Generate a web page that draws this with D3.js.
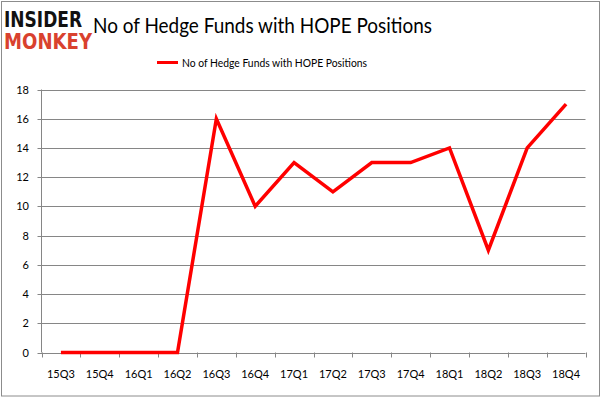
<!DOCTYPE html>
<html>
<head>
<meta charset="utf-8">
<script src="https://d3js.org/d3.v7.min.js"></script>
<style>
  body { margin: 0; background: #fff; }
  text { font-family: Lato, "Open Sans", sans-serif; }
</style>
</head>
<body>
<div id="chart"></div>
<script>

// chart data
var quarters = ["15Q3","15Q4","16Q1","16Q2","16Q3","16Q4","17Q1","17Q2","17Q3","17Q4","18Q1","18Q2","18Q3","18Q4"];
var funds = [0, 0, 0, 0, 16, 10, 13, 11, 13, 13, 14, 7, 14, 17];
var yTicks = [0, 2, 4, 6, 8, 10, 12, 14, 16, 18];
var seriesName = "No of Hedge Funds with HOPE Positions";

var W = 602, H = 398;
var plot = {left: 41.5, right: 585.5, top: 89.5, bottom: 352.5};

var svg = d3.select("#chart").append("svg")
    .attr("width", W)
    .attr("height", H);

// outer frame
svg.append("rect")
    .attr("x", 1.5).attr("y", 1.5)
    .attr("width", 598).attr("height", 394.5)
    .attr("fill", "#fff")
    .attr("stroke", "#8c8c8c");

// logo
svg.append("text").attr("x", 4).attr("y", 27)
    .style("font-family", "DejaVu Sans").style("font-weight", "bold")
    .style("font-size", "21px").attr("textLength", 78).attr("lengthAdjust", "spacingAndGlyphs")
    .attr("fill", "#111").text("INSIDER");
svg.append("text").attr("x", 4).attr("y", 49)
    .style("font-family", "DejaVu Sans").style("font-weight", "bold")
    .style("font-size", "21px").attr("textLength", 88).attr("lengthAdjust", "spacingAndGlyphs")
    .attr("fill", "#d9412e").text("MONKEY");

// title
svg.append("text")
    .attr("x", 93).attr("y", 33)
    .style("font-size", "21px")
    .attr("textLength", 339).attr("lengthAdjust", "spacingAndGlyphs")
    .attr("fill", "#000")
    .text(seriesName);

// legend
svg.append("line")
    .attr("x1", 157).attr("x2", 178).attr("y1", 62.5).attr("y2", 62.5)
    .attr("stroke", "#ff0000").attr("stroke-width", 3);
svg.append("text")
    .attr("x", 182).attr("y", 66.5)
    .style("font-size", "12px")
    .attr("textLength", 185).attr("lengthAdjust", "spacingAndGlyphs")
    .attr("fill", "#000")
    .text(seriesName);

// scales
var x = d3.scaleBand().domain(quarters).range([plot.left, plot.right]);
var y = d3.scaleLinear().domain([0, 18]).range([plot.bottom, plot.top]);

// gridlines
svg.append("g").selectAll("line")
  .data(yTicks)
  .enter().append("line")
    .attr("x1", plot.left - 4).attr("x2", plot.right)
    .attr("y1", function(d) { return Math.round(y(d)) + 0.5; })
    .attr("y2", function(d) { return Math.round(y(d)) + 0.5; })
    .attr("stroke", "#868686");

// y axis line
svg.append("line")
    .attr("x1", plot.left).attr("x2", plot.left)
    .attr("y1", plot.top).attr("y2", plot.bottom)
    .attr("stroke", "#868686");

// y labels
svg.append("g").selectAll("text")
  .data(yTicks)
  .enter().append("text")
    .attr("x", 29)
    .attr("y", function(d) { return y(d) + 4; })
    .attr("text-anchor", "end")
    .style("font-size", "11px")
    .attr("fill", "#000")
    .text(function(d) { return d; });

// x tick marks at band edges
var edges = quarters.map(function(q) { return x(q); }).concat([plot.right]);
svg.append("g").selectAll("line")
  .data(edges)
  .enter().append("line")
    .attr("x1", function(d) { return Math.round(d) + 0.5; })
    .attr("x2", function(d) { return Math.round(d) + 0.5; })
    .attr("y1", plot.bottom).attr("y2", plot.bottom + 5)
    .attr("stroke", "#868686");

// x labels
svg.append("g").selectAll("text")
  .data(quarters)
  .enter().append("text")
    .attr("x", function(d) { return x(d) + x.bandwidth() / 2; })
    .attr("y", 378)
    .attr("text-anchor", "middle")
    .style("font-size", "11px")
    .attr("fill", "#000")
    .text(function(d) { return d; });

// series line
var line = d3.line()
    .x(function(d, i) { return x(quarters[i]) + x.bandwidth() / 2; })
    .y(function(d) { return y(d); });

svg.append("path")
    .datum(funds)
    .attr("d", line)
    .attr("fill", "none")
    .attr("stroke", "#ff0000")
    .attr("stroke-width", 3.5)
    .attr("stroke-linejoin", "miter");

</script>
</body>
</html>
